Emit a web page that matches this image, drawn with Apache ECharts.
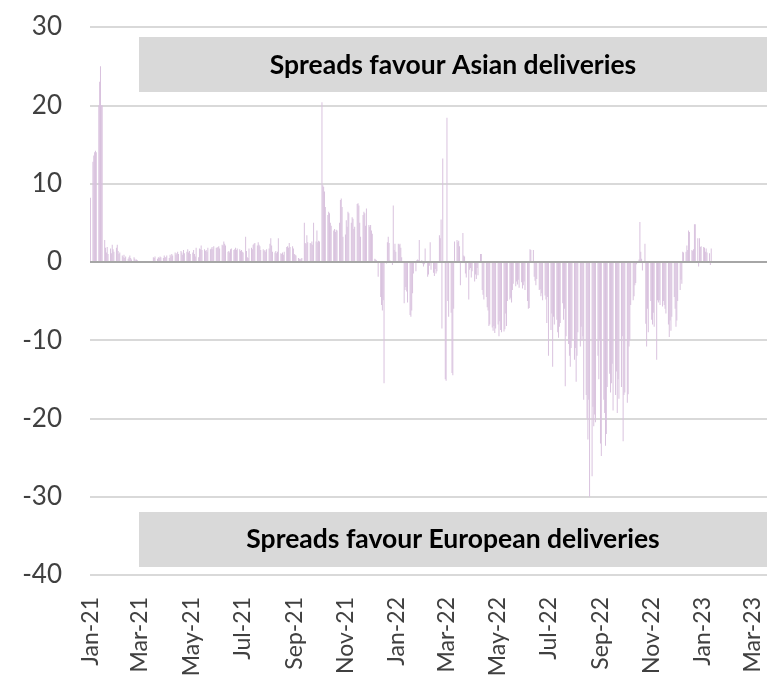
<!DOCTYPE html>
<html><head><meta charset="utf-8">
<script src="https://cdn.jsdelivr.net/npm/echarts@6/dist/echarts.min.js"></script>
<style>html,body{margin:0;padding:0;background:#fff}#c{width:767px;height:675px}</style>
</head><body><div id="c"></div>
<script>
// Axis range (calendar days) and tick labels
const axisStart = '2021-01-01';
const axisEnd = '2023-03-18';
const monthNames = ['Jan','Feb','Mar','Apr','May','Jun','Jul','Aug','Sep','Oct','Nov','Dec'];
const labelMonths = ['01','03','05','07','09','11'];
const yMin = -40, yMax = 30, yStep = 10;
const topNote = 'Spreads favour Asian deliveries';
const bottomNote = 'Spreads favour European deliveries';

// Spread values per business day, one inner array per month
const q2021_1 = [
  [8.2,12.8,13.6,14.0,14.2,14.0,20.0,23.0,25.0,20.0,20.0,2.8,1.8,1.2,1.9,1.0,1.7,1.1,2.2,1.6,1.3],
  [1.8,2.2,1.4,1.0,1.2,0.8,0.6,0.9,0.5,0.7,0.4,0.6,0.8,0.5,0.3,0.6,0.4,0.2,0.3,0.2],
  [0.1,0.1,0.0,0.1,0.1,0.0,0.1,0.1,0.1,0.0,0.1,0.1,0.6,0.5,0.7,0.4,0.6,0.5,0.7,0.6,0.5,0.8,0.6]
];
const q2021_2 = [
  [0.6,0.8,0.5,0.9,0.7,1.0,0.8,1.2,0.9,1.1,1.3,1.0,1.4,1.2,0.9,1.5,1.1,1.3,1.6,1.2,1.4,1.0],
  [1.2,1.5,1.0,0.7,1.8,0.6,1.7,1.6,2.1,1.5,1.6,1.4,1.5,1.3,1.8,1.6,1.7,1.9,1.6,2.0,1.8],
  [1.8,1.9,2.0,1.7,2.2,2.1,2.6,2.3,2.1,1.3,1.4,1.2,1.6,1.7,1.5,1.6,1.8,1.5,1.7,1.6,1.4,1.5]
];
const q2021_3 = [
  [1.3,1.2,3.2,1.4,0.6,0.5,1.7,1.8,1.6,2.2,2.3,2.4,2.1,2.5,2.2,2.0,1.5,1.6,1.4,1.5,1.3,1.6],
  [1.7,2.3,3.0,2.1,1.3,1.2,1.4,1.1,1.3,3.0,1.1,1.0,1.2,0.9,1.3,1.9,2.0,1.8,2.4,1.9,2.0,1.7],
  [1.0,0.9,0.8,0.5,0.4,0.3,0.4,0.5,5.0,2.4,2.3,3.4,2.5,2.4,2.3,2.6,2.2,5.0,2.6,4.0,2.5,2.7]
];
const q2021_4 = [
  [2.6,20.4,9.8,9.6,9.0,7.0,6.0,6.4,6.2,5.0,4.6,4.0,4.2,3.8,4.1,4.0,5.0,7.9,8.1,7.0,3.2],
  [3.5,5.3,4.5,6.4,6.2,5.0,5.7,5.5,4.2,4.5,7.4,7.5,7.2,5.0,3.2,6.0,6.4,6.2,4.6,6.8,4.7,4.5],
  [4.7,4.0,3.6,0.4,0.3,0.2,0.1,-1.9,-4.5,-5.5,-6.2,-4.9,-15.5,-0.2,2.5,3.2,2.4,0.2,-0.4,7.2,1.5,2.3,1.3]
];
const q2022_1 = [
  [2.3,2.2,2.3,1.8,0.6,-5.3,-3.6,-3.2,-3.8,-5.2,-6.8,-7.0,-6.2,-4.0,-1.5,-1.2,0.2,0.3,0.2,2.8,0.2],
  [-0.2,-0.6,-0.3,1.7,-1.9,-1.6,-0.5,2.5,-1.0,-1.4,-1.8,-0.9,-1.5,-1.2,3.4,3.0,5.4,-8.5,13.2,-15.0],
  [-15.2,18.4,-5.0,-7.0,-6.5,-14.2,-14.5,-6.0,2.6,2.8,2.5,2.7,2.0,-3.0,3.7,0.8,0.7,-1.5,-2.0,-4.8,-1.0,-0.8,-2.0]
];
const q2022_2 = [
  [-1.2,-2.5,-1.6,-2.2,-0.8,-1.7,1.0,1.0,-3.6,-4.2,-4.8,-4.5,-5.8,-6.2,-8.2,-8.0,-8.4,-8.8,-8.2,-9.1,-8.5],
  [-8.0,-9.5,-7.6,-8.7,-9.0,-8.9,-8.6,-6.6,-8.2,-5.0,-4.8,-4.6,-5.2,-3.6,-2.8,-3.1,-2.5,-2.9,-2.3,-3.3,-2.6,-3.4],
  [-3.0,-2.5,-3.6,-5.0,-6.0,-5.9,1.6,1.5,1.5,-1.9,-2.4,-3.0,-2.2,-3.6,-3.5,-4.4,-4.0,-4.9,-4.3,-4.8,-7.8,-4.5]
];
const q2022_3 = [
  [-12.0,-8.7,-6.6,-13.4,-7.0,-8.0,-7.4,-9.0,-9.7,-8.3,-7.8,-5.3,-7.4,-6.0,-15.9,-9.5,-10.5,-12.0,-13.4,-11.0,-10.0],
  [-12.5,-11.0,-15.3,-12.0,-9.0,-10.8,-8.3,-10.0,-9.5,-17.6,-17.0,-20.0,-22.7,-17.6,-30.0,-27.4,-18.5,-21.0,-19.5,-20.5,-12.0,-15.0,-10.0],
  [-23.2,-24.8,-17.6,-19.3,-23.5,-22.0,-16.0,-14.3,-16.7,-15.5,-13.0,-19.0,-17.0,-14.0,-19.3,-15.0,-17.5,-16.0,-9.5,-22.9,-17.0,-16.7]
];
const q2022_4 = [
  [-18.0,-16.9,-10.8,-10.0,-5.5,-4.9,-4.4,-3.0,-2.7,-0.3,0.3,5.1,1.3,0.4,-1.1,2.3,-7.9,-10.8,-6.0,-9.0,-5.0],
  [-7.4,-8.0,-6.5,-8.3,-12.5,-4.9,-5.2,-4.9,-5.5,-5.7,-5.0,-5.5,-6.0,-6.6,-8.0,-9.6,-7.5,-8.8,-7.0,-4.5,-6.0,-8.3],
  [-7.5,-5.0,-3.6,-2.3,-2.8,1.3,1.2,1.3,2.1,1.5,4.0,3.8,1.5,1.4,1.6,4.8,4.8,3.0,-0.6,3.0,1.9,2.0]
];
const q2023_1 = [
  [1.9,1.8,1.3,1.7,1.2,1.1,-0.4,1.7]
];

// ---- build calendar-day categories and map monthly business-day values onto them
const quarters = [q2021_1,q2021_2,q2021_3,q2021_4,q2022_1,q2022_2,q2022_3,q2022_4,q2023_1];
const pad = n => (n < 10 ? '0' : '') + n;
const fmt = d => d.getUTCFullYear() + '-' + pad(d.getUTCMonth() + 1) + '-' + pad(d.getUTCDate());
const categories = [];
for (let t = Date.parse(axisStart + 'T00:00:00Z'); t <= Date.parse(axisEnd + 'T00:00:00Z'); t += 86400000) {
  categories.push(fmt(new Date(t)));
}
const valueByDate = {};
const months = [];
quarters.forEach(q => q.forEach(m => months.push(m)));
months.forEach((vals, mi) => {
  const year = 2021 + Math.floor(mi / 12);
  const month = mi % 12;
  let k = 0;
  for (let day = 1; day <= 31 && k < vals.length; day++) {
    const d = new Date(Date.UTC(year, month, day));
    if (d.getUTCMonth() !== month) break;
    const wd = d.getUTCDay();
    if (wd === 0 || wd === 6) continue;
    valueByDate[fmt(d)] = vals[k++];
  }
});
const seriesData = categories.map(c => (c in valueByDate ? valueByDate[c] : '-'));

const isLabelDay = v => v.slice(8) === '01' && labelMonths.indexOf(v.slice(5, 7)) >= 0;

const chart = echarts.init(document.getElementById('c'), null, {renderer: 'canvas'});
chart.setOption({
  animation: false,
  backgroundColor: '#ffffff',
  grid: {left: 90, right: 0, top: 27, bottom: 100, containLabel: false, outerBoundsMode: 'none'},
  xAxis: {
    type: 'category',
    data: categories,
    boundaryGap: true,
    axisLine: {show: false, onZero: false},
    axisTick: {show: false},
    splitLine: {show: false},
    axisLabel: {
      interval: (i, v) => isLabelDay(v),
      formatter: v => monthNames[+v.slice(5, 7) - 1] + '-' + v.slice(2, 4),
      rotate: 90,
      margin: 22,
      fontSize: 23,
      fontFamily: 'Lato',
      color: '#404040',
      hideOverlap: false
    }
  },
  yAxis: {
    type: 'value',
    min: yMin, max: yMax, interval: yStep,
    axisLine: {show: false},
    axisTick: {show: false},
    axisLabel: {fontSize: 26, fontFamily: 'Lato', color: '#404040', margin: 28},
    splitLine: {lineStyle: {color: '#d9d9d9', width: 2}}
  },
  series: [{
    type: 'bar',
    data: seriesData,
    barWidth: 1,
    itemStyle: {color: '#d9c2de'},
    silent: true,
    markLine: {
      silent: true,
      symbol: 'none',
      label: {show: false},
      lineStyle: {color: '#a6a6a6', width: 2, type: 'solid'},
      data: [{yAxis: 0}]
    }
  }],
  graphic: [
    {type: 'rect', x: 139, y: 37, shape: {x: 0, y: 0, width: 628, height: 55}, style: {fill: '#d9d9d9'}, z: 10},
    {type: 'text', x: 453, y: 65, z: 11,
     style: {text: topNote, textAlign: 'center', textVerticalAlign: 'middle', font: 'bold 26.5px Lato', fill: '#000'}},
    {type: 'rect', x: 139, y: 512, shape: {x: 0, y: 0, width: 628, height: 55}, style: {fill: '#d9d9d9'}, z: 10},
    {type: 'text', x: 453, y: 539, z: 11,
     style: {text: bottomNote, textAlign: 'center', textVerticalAlign: 'middle', font: 'bold 26.5px Lato', fill: '#000'}}
  ]
});
</script>
</body></html>
